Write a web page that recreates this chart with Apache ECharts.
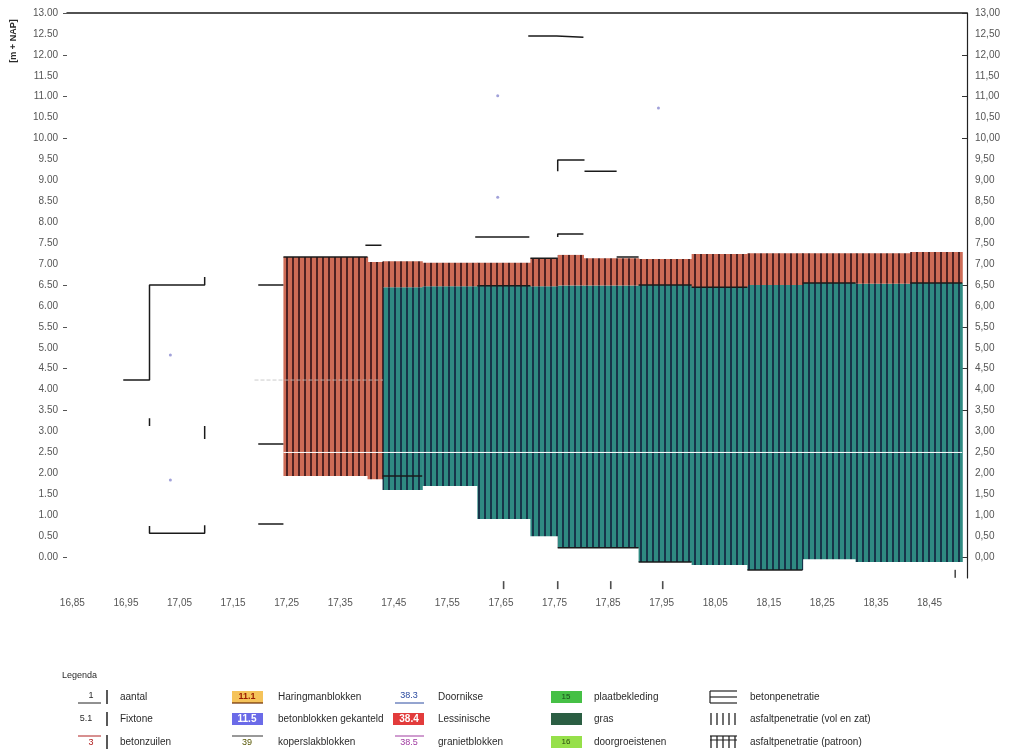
<!DOCTYPE html>
<html>
<head>
<meta charset="utf-8">
<script src="https://cdn.jsdelivr.net/npm/echarts/dist/echarts.min.js"></script>
<style>html,body{margin:0;padding:0;background:#fff}#c{width:1014px;height:753px}</style>
</head>
<body>
<div id="c"></div>
<script>
// ---------- data ----------
// x tick labels (km)
const xLabels = [16.85, 16.95, 17.05, 17.15, 17.25, 17.35, 17.45, 17.55, 17.65, 17.75, 17.85, 17.95, 18.05, 18.15, 18.25, 18.35, 18.45];
// y tick labels (m + NAP)
const yLabels = [0, 0.5, 1, 1.5, 2, 2.5, 3, 3.5, 4, 4.5, 5, 5.5, 6, 6.5, 7, 7.5, 8, 8.5, 9, 9.5, 10, 10.5, 11, 11.5, 12, 12.5, 13];
const yTickMarks = [0, 3.5, 4.5, 5.5, 6.5, 10, 11, 12, 13];

// section boundaries along the profile (x, km)
const sectStart = [17.244, 17.401, 17.429, 17.503, 17.606, 17.705, 17.756, 17.804, 17.907, 18.006, 18.110, 18.213, 18.312, 18.414];
const sectEnd   = [17.401, 17.429, 17.503, 17.606, 17.705, 17.756, 17.804, 17.907, 18.006, 18.110, 18.213, 18.312, 18.414, 18.511];
// upper (red) revetment layer
const upperTop    = [7.17, 7.05, 7.07, 7.03, 7.03, 7.14, 7.22, 7.14, 7.12, 7.24, 7.26, 7.26, 7.26, 7.29];
const upperBottom = [1.94, 1.86, 6.45, 6.47, 6.48, 6.47, 6.49, 6.49, 6.50, 6.45, 6.50, 6.55, 6.53, 6.55];
// lower (teal) revetment layer
const lowerTop    = [null, null, 6.45, 6.47, 6.48, 6.47, 6.49, 6.49, 6.50, 6.45, 6.50, 6.55, 6.53, 6.55];
const lowerBottom = [null, null, 1.60, 1.70, 0.91, 0.50, 0.22, 0.22, -0.12, -0.19, -0.31, -0.05, -0.12, -0.12];

// black outline / marker lines [x, y] polylines
const outlineLines = [
  [[16.945, 4.23], [16.994, 4.23], [16.994, 6.50], [17.097, 6.50], [17.097, 6.69]],
  [[16.994, 0.74], [16.994, 0.57], [17.097, 0.57], [17.097, 0.76]],
  [[16.994, 3.32], [16.994, 3.13]],
  [[17.097, 3.13], [17.097, 2.82]],
  [[17.197, 6.50], [17.244, 6.50]],
  [[17.197, 2.70], [17.244, 2.70]],
  [[17.197, 0.79], [17.244, 0.79]],
  [[17.397, 7.45], [17.427, 7.45]],
  [[17.602, 7.65], [17.703, 7.65]],
  [[17.756, 7.65], [17.756, 7.72], [17.804, 7.72]],
  [[17.701, 12.45], [17.754, 12.45], [17.754, 12.42], [17.804, 12.42]],
  [[17.756, 9.22], [17.756, 9.49], [17.806, 9.49]],
  [[17.806, 9.22], [17.866, 9.22]],
  [[17.244, 7.17], [17.401, 7.17]],
  [[17.705, 7.14], [17.756, 7.14]],
  [[17.866, 7.17], [17.907, 7.17]],
  [[17.606, 6.48], [17.705, 6.48]],
  [[17.907, 6.50], [18.006, 6.50]],
  [[18.006, 6.45], [18.110, 6.45]],
  [[18.213, 6.55], [18.312, 6.55]],
  [[18.414, 6.55], [18.511, 6.55]],
  [[17.429, 1.94], [17.503, 1.94]],
  [[17.756, 0.22], [17.907, 0.22]],
  [[17.907, -0.12], [18.006, -0.12]],
  [[18.110, -0.31], [18.213, -0.31]]
];
const waterLevel = [[17.244, 2.50], [18.511, 2.50]];
const greyLevel  = [[17.19, 4.23], [17.43, 4.23]];
// small "Fixtone" markers
const fixX = [17.033, 17.033, 17.644, 17.644, 17.944];
const fixY = [4.83, 1.84, 11.02, 8.60, 10.73];
// small ticks below the profile
const markX = [17.655, 17.756, 17.855, 17.952, 18.498];
const markY = [-0.67, -0.67, -0.67, -0.67, -0.40];

// axis ranges
const xMin = 16.84, xMax = 18.52;
const yMin = -0.5, yMax = 13;

// legend
const legendTitle = 'Legenda';
const legendCol1 = ['aantal', 'Fixtone', 'betonzuilen'];
const legendCol2 = ['Haringmanblokken', 'betonblokken gekanteld', 'koperslakblokken'];
const legendCol3 = ['Doornikse', 'Lessinische', 'granietblokken'];
const legendCol4 = ['plaatbekleding', 'gras', 'doorgroeistenen'];
const legendCol5 = ['betonpenetratie', 'asfaltpenetratie (vol en zat)', 'asfaltpenetratie (patroon)'];
const codes2 = ['11.1', '11.5', '39'];
const codes3 = ['38.3', '38.4', '38.5'];
const codes4 = ['15', '', '16'];

// ---------- drawing ----------
function stripe(base, dark) {
  const c = document.createElement('canvas');
  c.width = 6; c.height = 6;
  const g = c.getContext('2d');
  g.fillStyle = base; g.fillRect(0, 0, 6, 6);
  g.fillStyle = dark; g.fillRect(4, 0, 2, 6);
  return c;
}
const redPat = stripe('#cd6b56', '#4e2222');
const tealPat = stripe('#2f8a82', '#17344a');

function rectSeries(x0, x1, yb, yt, pat, z) {
  const data = [];
  x0.forEach((v, i) => { if (yb[i] != null && yt[i] != null) data.push([v, x1[i], yb[i], yt[i]]); });
  return {
    type: 'custom', z: z, silent: true, data: data,
    encode: { x: [0, 1], y: [2, 3] },
    renderItem: function (params, api) {
      const p0 = api.coord([api.value(0), api.value(3)]);
      const p1 = api.coord([api.value(1), api.value(2)]);
      return {
        type: 'rect',
        shape: { x: p0[0], y: p0[1], width: p1[0] - p0[0] + 0.6, height: p1[1] - p0[1] },
        style: { fill: { image: pat, repeat: 'repeat' } }
      };
    }
  };
}

const series = [
  rectSeries(sectStart, sectEnd, lowerBottom, lowerTop, tealPat, 1),
  rectSeries(sectStart, sectEnd, upperBottom, upperTop, redPat, 2),
  { type: 'line', data: greyLevel, symbol: 'none', silent: true, z: 3,
    lineStyle: { color: 'rgba(190,190,190,0.8)', width: 1, type: 'dashed' } },
  { type: 'line', data: waterLevel, symbol: 'none', silent: true, z: 3,
    lineStyle: { color: '#ffffff', width: 1 } }
];
outlineLines.forEach(seg => series.push({
  type: 'line', data: seg, symbol: 'none', silent: true, z: 5,
  lineStyle: { color: '#1a1a1a', width: 1.5 }
}));
series.push({ type: 'scatter', data: fixX.map((v, i) => [v, fixY[i]]), symbol: 'circle', symbolSize: 3,
  itemStyle: { color: '#8a8ad0' }, silent: true, z: 6 });
series.push({ type: 'scatter', data: markX.map((v, i) => [v, markY[i]]), symbol: 'rect', symbolSize: [1.6, 8],
  itemStyle: { color: '#222' }, silent: true, clip: false, z: 6 });

// legend graphics
const g = [];
const tf = { fontFamily: 'Liberation Sans, Arial, sans-serif', fontSize: 10, fill: '#2a2a2a' };
function txt(x, y, s, extra) { g.push({ type: 'text', x: x, y: y, style: Object.assign({ text: s, verticalAlign: 'middle' }, tf, extra || {}) }); }
function ln(x1, y1, x2, y2, c, w) { g.push({ type: 'line', shape: { x1: x1, y1: y1, x2: x2, y2: y2 }, style: { stroke: c || '#222', lineWidth: w || 1 } }); }
function box(x, y, w, h, c) { g.push({ type: 'rect', shape: { x: x, y: y, width: w, height: h }, style: { fill: c } }); }
const rows = [697, 719, 742];
txt(62, 676, legendTitle, { fontSize: 9 });
// col 1
ln(78, 703, 101, 703, '#222', 1); txt(91, 696, '1', { align: 'center', fontSize: 9 }); ln(107, 690, 107, 704, '#222', 1.5);
txt(86, 719, '5.1', { fontSize: 9, align: 'center' }); ln(107, 712, 107, 726, '#222', 1.5);
ln(78, 736, 101, 736, '#b02020', 1); txt(91, 743, '3', { align: 'center', fontSize: 9, fill: '#b02020' }); ln(107, 735, 107, 749, '#222', 1.5);
legendCol1.forEach((s, i) => txt(120, rows[i], s));
// col 2
box(232, 691, 31, 12, '#f5c35a'); ln(232, 703, 263, 703, '#6a2a00', 1.2);
txt(247, 697, codes2[0], { align: 'center', fontSize: 9, fontWeight: 'bold', fill: '#9a1a00' });
box(232, 713, 31, 12, '#6b6be8'); txt(247, 719, codes2[1], { align: 'center', fontSize: 10, fontWeight: 'bold', fill: '#ffffff' });
ln(232, 736, 263, 736, '#333', 1); txt(247, 743, codes2[2], { align: 'center', fontSize: 9, fill: '#555500' });
legendCol2.forEach((s, i) => txt(278, rows[i], s));
// col 3
txt(409, 696, codes3[0], { align: 'center', fontSize: 9, fill: '#2a4aa0' }); ln(395, 703, 424, 703, '#2a4aa0', 1);
box(393, 713, 31, 12, '#e23b3b'); txt(409, 719, codes3[1], { align: 'center', fontSize: 10, fontWeight: 'bold', fill: '#ffffff' });
ln(395, 736, 424, 736, '#a03aa0', 1); txt(409, 743, codes3[2], { align: 'center', fontSize: 9, fill: '#a03aa0' });
legendCol3.forEach((s, i) => txt(438, rows[i], s));
// col 4
box(551, 691, 31, 12, '#46c046'); txt(566, 697, codes4[0], { align: 'center', fontSize: 8, fill: '#1a4a1a' });
box(551, 713, 31, 12, '#2b5e43');
box(551, 736, 31, 12, '#96e04a'); txt(566, 742, codes4[2], { align: 'center', fontSize: 8, fill: '#2a4a10' });
legendCol4.forEach((s, i) => txt(594, rows[i], s));
// col 5
ln(710, 691, 737, 691, '#222', 1.2); ln(710, 697, 737, 697, '#222', 1.2); ln(710, 703, 737, 703, '#222', 1.2); ln(710, 691, 710, 703, '#222', 1.2);
[711, 717, 723, 729, 735].forEach(x => ln(x, 713, x, 725, '#222', 1.3));
ln(710, 736, 737, 736, '#222', 1.2); ln(710, 740, 737, 740, '#222', 1);
[711, 717, 723, 729, 735].forEach(x => ln(x, 736, x, 748, '#222', 1.3));
legendCol5.forEach((s, i) => txt(750, rows[i], s));
// y axis unit
g.push({ type: 'text', x: 14, y: 41, rotation: Math.PI / 2,
  style: Object.assign({}, tf, { text: '[m + NAP]', align: 'center', verticalAlign: 'middle', fontSize: 9, fontWeight: 'bold' }) });

const chart = echarts.init(document.getElementById('c'));
chart.setOption({
  animation: false,
  backgroundColor: '#fff',
  grid: { left: 67, top: 13, width: 900, height: 565, containLabel: false },
  xAxis: [
    { type: 'value', min: xMin, max: xMax, position: 'bottom',
      axisLine: { show: false, onZero: false }, axisTick: { show: false }, splitLine: { show: false },
      axisLabel: { margin: 20, color: '#555', fontSize: 10, fontFamily: 'Liberation Sans, Arial',
        customValues: xLabels, showMinLabel: true, showMaxLabel: true,
        formatter: v => v.toFixed(2).replace('.', ',') } },
    { type: 'value', min: xMin, max: xMax, position: 'top',
      axisLine: { show: true, onZero: false, lineStyle: { color: '#1a1a1a', width: 1.5 } },
      axisTick: { show: false }, axisLabel: { show: false }, splitLine: { show: false } }
  ],
  yAxis: [
    { type: 'value', min: yMin, max: yMax, position: 'left',
      axisLine: { show: false, onZero: false }, splitLine: { show: false },
      axisTick: { show: true, length: 4, customValues: yTickMarks, lineStyle: { color: '#555' } },
      axisLabel: { margin: 9, color: '#555', fontSize: 10, fontFamily: 'Liberation Sans, Arial',
        customValues: yLabels, formatter: v => v.toFixed(2) } },
    { type: 'value', min: yMin, max: yMax, position: 'right',
      axisLine: { show: true, onZero: false, lineStyle: { color: '#222', width: 1.2 } }, splitLine: { show: false },
      axisTick: { show: true, inside: true, length: 5, customValues: yTickMarks, lineStyle: { color: '#333' } },
      axisLabel: { margin: 8, color: '#555', fontSize: 10, fontFamily: 'Liberation Sans, Arial',
        customValues: yLabels, formatter: v => v.toFixed(2).replace('.', ',') } }
  ],
  series: series,
  graphic: g
});
</script>
</body>
</html>
